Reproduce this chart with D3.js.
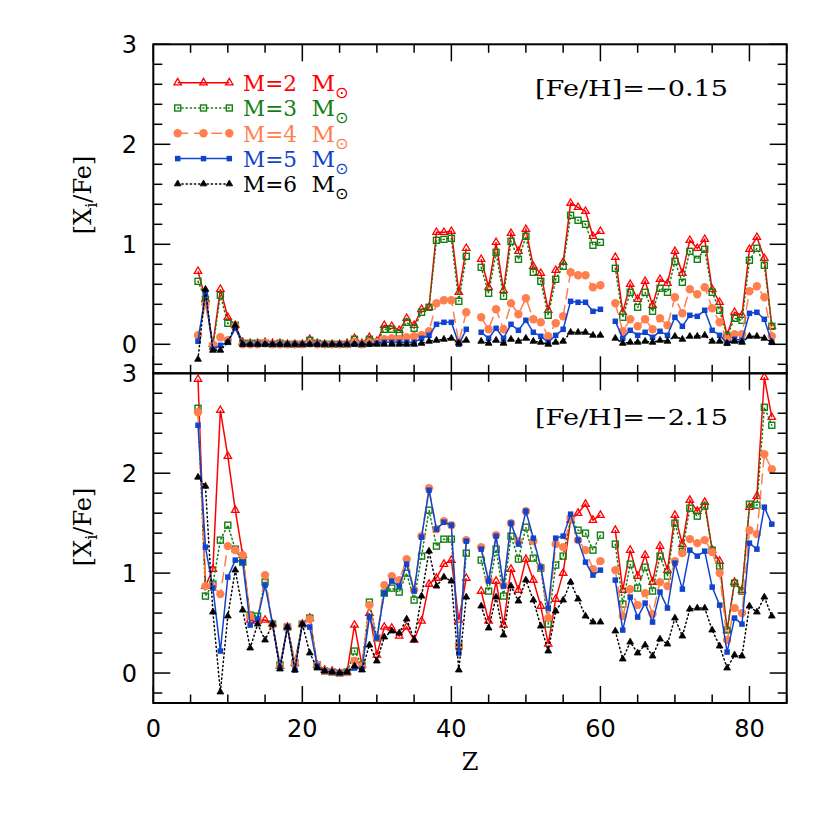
<!DOCTYPE html>
<html>
<head>
<meta charset="utf-8">
<script src="https://cdn.jsdelivr.net/npm/d3@7"></script>
<style>
  body { margin:0; background:#fff; }
  svg { display:block; }
</style>
</head>
<body>
<div id="chart"></div>
<script>
// atomic numbers (43 = Tc and 61 = Pm have no value)
var zVals = [6,7,8,9,10,11,12,13,14,15,16,17,18,19,20,21,22,23,24,25,26,27,28,29,30,
  31,32,33,34,35,36,37,38,39,40,41,42,43,44,45,46,47,48,49,50,51,52,53,54,55,56,57,58,59,60,
  61,62,63,64,65,66,67,68,69,70,71,72,73,74,75,76,77,78,79,80,81,82,83]

// [Fe/H] = -0.15
var top_m2 = [0.73,0.45,0.0,0.55,0.27,0.19,0.02,0.01,0.01,0.02,0.01,0.01,0.0,0.0,0.0,0.05,0.01,0.0,0.0,0.0,0.01,0.06,0.01,0.07,0.03,
  0.19,0.18,0.14,0.26,0.19,0.35,0.37,1.12,1.12,1.13,0.52,0.96,null,0.85,0.57,1.02,0.54,1.11,0.93,1.15,0.78,0.71,0.34,0.74,0.82,1.41,1.37,1.33,1.08,1.13,
  null,0.87,0.32,0.60,0.45,0.63,0.39,0.65,0.61,0.93,0.71,1.04,0.96,1.05,0.55,0.42,0.09,0.32,0.29,0.95,1.07,0.86,0.18]
var top_m3 = [0.63,0.45,-0.02,0.49,0.21,0.19,0.01,0.01,0.01,0.01,0.0,0.01,0.0,0.0,0.0,0.04,0.01,0.0,0.0,0.0,0.0,0.05,0.0,0.05,0.02,
  0.15,0.15,0.11,0.22,0.16,0.32,0.37,1.04,1.05,1.06,0.43,0.88,null,0.77,0.51,0.92,0.48,1.03,0.85,1.08,0.72,0.63,0.29,0.65,0.78,1.29,1.24,1.20,0.99,1.02,
  null,0.76,0.27,0.52,0.37,0.52,0.33,0.56,0.52,0.83,0.62,0.93,0.85,0.95,0.52,0.34,0.08,0.26,0.24,0.84,0.96,0.79,0.18]
var top_m4 = [0.09,0.40,-0.01,0.07,0.04,0.18,0.0,0.0,0.0,0.01,0.0,0.0,0.0,0.0,0.0,0.01,0.0,0.0,0.0,0.0,0.0,0.02,0.0,0.02,0.02,
  0.05,0.06,0.05,0.07,0.08,0.09,0.13,0.41,0.44,0.44,0.02,0.32,null,0.27,0.15,0.35,0.15,0.41,0.30,0.46,0.25,0.22,0.08,0.21,0.28,0.72,0.69,0.69,0.57,0.59,
  null,0.41,0.13,0.25,0.18,0.25,0.15,0.26,0.19,0.47,0.31,0.55,0.50,0.57,0.36,0.22,0.05,0.10,0.10,0.53,0.58,0.47,0.08]
var top_m5 = [0.03,0.51,-0.05,-0.01,0.02,0.16,0.0,0.0,0.0,0.0,0.0,0.0,0.0,0.0,0.0,0.0,0.0,0.0,0.0,0.0,0.0,0.0,0.0,0.0,0.01,
  0.02,0.02,0.02,0.02,0.02,0.06,0.09,0.20,0.22,0.22,0.0,0.15,null,0.12,0.06,0.16,0.06,0.20,0.14,0.24,0.12,0.08,0.02,0.09,0.15,0.43,0.42,0.42,0.33,0.35,
  null,0.23,0.06,0.14,0.09,0.12,0.07,0.13,0.09,0.27,0.18,0.29,0.28,0.34,0.14,0.09,0.01,0.05,0.04,0.31,0.32,0.25,0.02]
var top_m6 = [-0.15,0.55,-0.06,-0.06,0.02,0.19,0.0,0.0,0.0,0.0,0.0,0.0,0.0,0.0,0.0,0.0,0.0,0.0,0.0,0.0,0.0,0.0,0.0,0.0,0.0,
  0.0,0.0,0.0,0.0,0.0,0.01,0.03,0.04,0.05,0.06,0.01,0.04,null,0.03,0.01,0.04,0.01,0.05,0.03,0.06,0.03,0.02,0.0,0.02,0.03,0.12,0.12,0.12,0.09,0.09,
  null,0.06,0.01,0.02,0.02,0.03,0.02,0.04,0.03,0.08,0.05,0.08,0.08,0.09,0.03,0.03,0.01,0.03,0.02,0.08,0.08,0.06,0.02]

// [Fe/H] = -2.15
var bot_m2 = [2.94,0.87,1.04,2.63,2.17,1.63,1.18,0.53,0.52,0.53,0.49,0.07,0.46,0.10,0.49,0.55,0.08,0.03,0.02,0.0,0.01,0.48,0.08,0.60,0.18,
  0.46,0.45,0.37,0.46,0.33,0.52,0.89,0.95,1.09,1.13,0.53,0.95,null,0.82,0.52,0.92,0.48,1.04,0.83,1.14,0.93,0.67,0.29,0.74,1.00,1.53,1.60,1.69,1.53,1.58,
  null,1.43,0.83,1.23,0.97,1.18,0.91,1.27,1.03,1.58,1.29,1.73,1.62,1.71,1.23,1.12,0.43,0.91,0.83,1.66,1.77,2.96,2.56]
var bot_m3 = [2.65,0.77,0.89,1.33,1.48,1.24,1.11,0.58,0.57,0.91,0.49,0.08,0.46,0.10,0.49,0.55,0.08,0.02,0.01,0.0,0.01,0.22,0.08,0.71,0.35,
  0.80,0.85,0.81,1.00,0.73,1.17,1.63,1.27,1.34,1.34,0.27,1.20,null,1.13,0.82,1.24,0.77,1.37,1.14,1.46,1.15,1.05,0.49,1.08,1.17,1.54,1.43,1.40,1.23,1.38,
  null,1.29,0.69,1.09,0.85,1.06,0.82,1.17,0.97,1.50,1.22,1.65,1.57,1.67,1.23,1.07,0.43,0.90,0.82,1.69,1.68,2.66,2.48]
var bot_m4 = [2.61,0.87,0.87,0.79,1.27,1.23,1.18,0.57,0.53,0.98,0.48,0.07,0.46,0.10,0.49,0.54,0.08,0.02,0.01,0.0,0.01,0.12,0.07,0.68,0.35,
  0.88,0.97,0.93,1.14,0.83,1.37,1.85,1.44,1.52,1.48,0.27,1.33,null,1.26,0.93,1.38,0.88,1.50,1.32,1.62,1.32,1.06,0.55,1.29,1.26,1.55,1.33,1.23,1.04,1.12,
  null,1.03,0.57,0.84,0.68,0.80,0.59,0.91,0.87,1.12,1.20,1.34,1.30,1.33,1.21,1.00,0.33,0.65,0.60,1.43,1.39,2.19,2.04]
var bot_m5 = [2.48,1.26,0.85,0.22,0.96,1.13,1.11,0.48,0.54,0.88,0.49,0.05,0.46,0.03,0.49,0.46,0.07,0.02,0.01,0.0,0.01,0.05,0.04,0.56,0.35,
  0.80,0.92,0.87,1.09,0.82,1.36,1.83,1.44,1.51,1.48,0.20,1.32,null,1.24,0.92,1.37,0.87,1.50,1.29,1.62,1.35,1.06,0.65,1.35,1.37,1.59,1.33,1.11,0.98,1.03,
  null,0.93,0.43,0.76,0.56,0.70,0.51,0.81,0.65,1.10,0.84,1.23,1.17,1.22,0.86,0.68,0.21,0.55,0.49,1.30,1.24,1.66,1.49]
var bot_m6 = [1.96,1.87,0.61,-0.19,0.57,1.03,0.63,0.25,0.49,0.33,0.49,0.04,0.46,0.03,0.49,0.20,0.05,0.02,0.01,0.0,0.01,0.07,0.03,0.28,0.12,
  0.36,0.42,0.40,0.54,0.33,0.77,1.22,0.87,0.96,0.92,0.03,0.76,null,0.67,0.45,0.76,0.38,0.87,0.72,0.93,0.73,0.47,0.22,0.62,0.73,0.91,0.74,0.57,0.51,0.51,
  null,0.42,0.14,0.31,0.20,0.28,0.17,0.34,0.29,0.55,0.37,0.64,0.65,0.65,0.43,0.27,0.05,0.18,0.17,0.67,0.61,0.76,0.57]

var massLabels = ['2','3','4','5','6']
var feLabels = ['[Fe/H]=\u22120.15','[Fe/H]=\u22122.15']
var xTickLabels = [0,20,40,60,80]
var yTickLabels = [0,1,2,3]

// styles per mass
var styles = [
  {color:'#ff0000', dash:null, sym:'tri', fill:false},
  {color:'#137f13', dash:'1.2,3', sym:'sq', fill:false},
  {color:'#ff7f4f', dash:'10,7', sym:'circ', fill:true},
  {color:'#1144cc', dash:null, sym:'sq', fill:true},
  {color:'#000000', dash:'1.2,3', sym:'tri', fill:true}
]

var W = 830, H = 830
var svg = d3.select('#chart').append('svg').attr('width',W).attr('height',H)
  .style('font-family','"DejaVu Serif", serif')

var x = d3.scaleLinear().domain([0,85]).range([153.3,786.7])
var panels = [
  {series:[top_m2,top_m3,top_m4,top_m5,top_m6], y:d3.scaleLinear().domain([-0.29,3]).range([373.3,44.3]), label:feLabels[0], labY:96, axY:195},
  {series:[bot_m2,bot_m3,bot_m4,bot_m5,bot_m6], y:d3.scaleLinear().domain([-0.3,3]).range([703,373.3]), label:feLabels[1], labY:425, axY:527}
]

function marker(g, st, cx, cy){
  if(st.sym == 'circ'){
    g.append('circle').attr('cx',cx).attr('cy',cy).attr('r',4.2).attr('fill',st.color)
  }else if(st.sym == 'tri'){
    var size = st.fill ? 20 : 24
    g.append('path').attr('d',d3.symbol(d3.symbolTriangle,size)())
      .attr('transform','translate('+cx+','+cy+')')
      .attr('fill',st.fill ? st.color : 'none')
      .attr('stroke',st.color).attr('stroke-width',st.fill ? 0.8 : 1.3)
  }else{
    var s = st.fill ? 5.5 : 6
    g.append('rect').attr('x',cx-s/2).attr('y',cy-s/2).attr('width',s).attr('height',s)
      .attr('fill',st.fill ? st.color : 'none')
      .attr('stroke',st.color).attr('stroke-width',st.fill ? 0 : 1.4)
  }
}

panels.forEach(function(p){
  var y = p.y
  var r0 = y.range()
  var g = svg.append('g')

  p.series.forEach(function(vals,i){
    var st = styles[i]
    var pts = zVals.map(function(z,k){ return [z, vals[k]] })
    var line = d3.line().defined(function(d){ return d[1] !== null })
      .x(function(d){ return x(d[0]) }).y(function(d){ return y(d[1]) })
    g.append('path').attr('d',line(pts)).attr('fill','none')
      .attr('stroke',st.color).attr('stroke-width',1.5)
      .attr('stroke-dasharray',st.dash)
      .attr('stroke-linecap',st.dash && st.dash[0]=='1' ? 'round' : 'butt')
    var mg = g.append('g')
    pts.filter(function(d){ return d[1] !== null }).forEach(function(d){
      marker(mg, st, x(d[0]), y(d[1]))
    })
  })

  // axes, ticks inward on all four sides
  var ax = svg.append('g').attr('stroke','#000').attr('fill','none')
  var xMaj = d3.range(0,86,20), xMin = d3.range(5,86,5).filter(function(v){ return v%20 })
  var yMaj = yTickLabels, yMin = d3.range(-0.2,3.01,0.2).filter(function(v){ return Math.abs(v-Math.round(v))>0.01 })
  ;[[xMaj,17],[xMin,8.5]].forEach(function(t){
    t[0].forEach(function(v){
      ax.append('line').attr('x1',x(v)).attr('x2',x(v)).attr('y1',r0[0]).attr('y2',r0[0]-t[1]).attr('stroke-width',1.5)
      ax.append('line').attr('x1',x(v)).attr('x2',x(v)).attr('y1',r0[1]).attr('y2',r0[1]+t[1]).attr('stroke-width',1.5)
    })
  })
  ;[[yMaj,17],[yMin,9]].forEach(function(t){
    t[0].forEach(function(v){
      ax.append('line').attr('x1',x(0)).attr('x2',x(0)+t[1]).attr('y1',y(v)).attr('y2',y(v)).attr('stroke-width',1.5)
      ax.append('line').attr('x1',x(85)).attr('x2',x(85)-t[1]).attr('y1',y(v)).attr('y2',y(v)).attr('stroke-width',1.5)
    })
  })
  ax.append('rect').attr('x',x(0)).attr('y',r0[1]).attr('width',x(85)-x(0)).attr('height',r0[0]-r0[1])
    .attr('stroke-width',2)

  // y tick labels
  yTickLabels.forEach(function(v){
    svg.append('text').attr('x',137).attr('y',y(v)+8.5).attr('text-anchor','end')
      .style('font-family','"DejaVu Sans", sans-serif').style('font-size','24px').text(v)
  })

  // y axis title
  var yt = svg.append('text').attr('transform','translate(91,'+p.axY+') rotate(-90)')
    .attr('text-anchor','middle').style('font-size','24px')
  yt.append('tspan').text('[X')
  yt.append('tspan').attr('dy',6).style('font-size','16px').text('i')
  yt.append('tspan').attr('dy',-6).text('/Fe]')

  svg.append('text').attr('x',535).attr('y',p.labY).style('font-size','23px')
    .attr('textLength',193).attr('lengthAdjust','spacingAndGlyphs').text(p.label)
})

// x tick labels and title
xTickLabels.forEach(function(v){
  svg.append('text').attr('x',x(v)).attr('y',737).attr('text-anchor','middle')
    .style('font-family','"DejaVu Sans", sans-serif').style('font-size','24px').text(v)
})
svg.append('text').attr('x',x(42.5)).attr('y',770).attr('text-anchor','middle')
  .style('font-size','24px').text('Z')

// legend
var leg = svg.append('g')
massLabels.forEach(function(m,i){
  var st = styles[i]
  var by = 91 + i*25.3, ly = by - 8.3
  leg.append('line').attr('x1',177.7).attr('x2',229.3).attr('y1',ly).attr('y2',ly)
    .attr('stroke',st.color).attr('stroke-width',1.5).attr('stroke-dasharray',st.dash)
    .attr('stroke-linecap',st.dash && st.dash[0]=='1' ? 'round' : 'butt')
  ;[177.7,203.5,229.3].forEach(function(cx){ marker(leg, st, cx, ly) })
  leg.append('text').attr('x',243).attr('y',by).attr('fill',st.color).style('font-size','23px')
    .attr('textLength',54).attr('lengthAdjust','spacingAndGlyphs').text('M=' + m)
  var t2 = leg.append('text').attr('x',311.5).attr('y',by).attr('fill',st.color).style('font-size','23px')
  t2.append('tspan').text('M')
  t2.append('tspan').attr('dy',7).style('font-size','16px').style('font-family','"DejaVu Sans", sans-serif').text('\u2299')
})
</script>
</body>
</html>
